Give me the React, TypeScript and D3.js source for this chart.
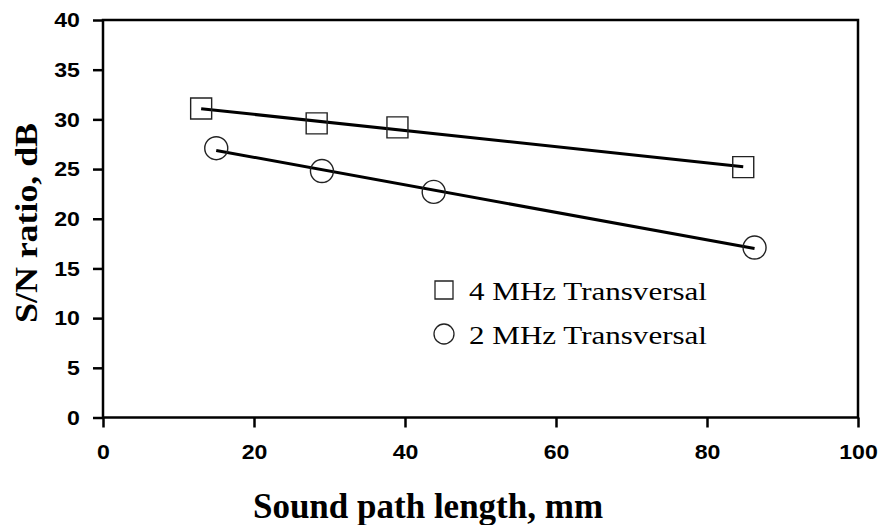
import { useEffect, useRef } from 'react'
import { select, scaleLinear, axisLeft, axisBottom, line, mean, symbol, symbolSquare, symbolCircle } from 'd3'

// 4 MHz transversal (squares)
const squareX = [13, 28.3, 39, 84.8]
const squareY = [31.1, 29.6, 29.2, 25.2]
// 2 MHz transversal (circles)
const circleX = [15, 29, 43.8, 86.3]
const circleY = [27.1, 24.8, 22.7, 17.1]

const xTicks = [0, 20, 40, 60, 80, 100]
const yTicks = [0, 5, 10, 15, 20, 25, 30, 35, 40]
const legendLabels = ['4 MHz Transversal', '2 MHz Transversal']

// least squares line through the points, drawn from first to last x
const fitLine = (xs: number[], ys: number[]) => {
  const mx = mean(xs) as number
  const my = mean(ys) as number
  let num = 0
  let den = 0
  xs.forEach((x, i) => {
    num += (x - mx) * (ys[i] - my)
    den += (x - mx) * (x - mx)
  })
  const slope = num / den
  const x0 = Math.min(...xs)
  const x1 = Math.max(...xs)
  return [[x0, my + slope * (x0 - mx)], [x1, my + slope * (x1 - mx)]] as [number, number][]
}

export default function App() {
  const svgRef = useRef<SVGSVGElement>(null)

  useEffect(() => {
    const svg = select(svgRef.current)
    svg.selectAll('*').remove()

    const xScale = scaleLinear([0, 100], [103, 858])
    const yScale = scaleLinear([0, 40], [417.5, 20])

    // y axis
    const yAxis = svg.append('g')
      .attr('transform', `translate(${xScale(0)},0)`)
      .call(axisLeft(yScale).tickValues(yTicks).tickSize(10).tickPadding(11))
    // x axis
    const xAxis = svg.append('g')
      .attr('transform', `translate(0,${yScale(0)})`)
      .call(axisBottom(xScale).tickValues(xTicks).tickSize(10).tickPadding(17))

    svg.selectAll('.domain').remove()
    ;[yAxis, xAxis].forEach(ax => {
      ax.selectAll('line').attr('stroke', '#000').attr('stroke-width', 2.5)
      ax.selectAll('text')
        .attr('fill', '#000')
        .style('font-family', '"Liberation Sans", Arial, sans-serif')
        .style('font-weight', 'bold')
        .style('font-size', '21px')
    })
    yAxis.selectAll('text').attr('transform', 'scale(1.1,1)')
    xAxis.selectAll('text').attr('transform', 'scale(1.1,1)').attr('dy', '0.71em')

    // plot frame
    svg.append('rect')
      .attr('x', xScale(0))
      .attr('y', yScale(40))
      .attr('width', xScale(100) - xScale(0))
      .attr('height', yScale(0) - yScale(40))
      .attr('fill', 'none')
      .attr('stroke', '#000')
      .attr('stroke-width', 2.5)

    const series = [
      { xs: squareX, ys: squareY, type: symbolSquare, size: 21 * 21 },
      { xs: circleX, ys: circleY, type: symbolCircle, size: Math.PI * 11.5 * 11.5 }
    ]

    const lineGen = line<[number, number]>()
      .x(d => xScale(d[0]))
      .y(d => yScale(d[1]))

    series.forEach(s => {
      svg.append('path')
        .attr('d', lineGen(fitLine(s.xs, s.ys)))
        .attr('fill', 'none')
        .attr('stroke', '#000')
        .attr('stroke-width', 3)

      svg.append('g')
        .selectAll('path')
        .data(s.xs.map((x, i) => [x, s.ys[i]]))
        .join('path')
        .attr('transform', d => `translate(${xScale(d[0])},${yScale(d[1])})`)
        .attr('d', symbol(s.type, s.size)())
        .attr('fill', 'none')
        .attr('stroke', '#222')
        .attr('stroke-width', 1.4)
    })

    // legend
    const legend = svg.append('g')
    legendLabels.forEach((label, i) => {
      const y = 290 + i * 44
      legend.append('path')
        .attr('transform', `translate(444,${y})`)
        .attr('d', symbol(series[i].type, i === 0 ? 18 * 18 : Math.PI * 10 * 10)())
        .attr('fill', 'none')
        .attr('stroke', '#222')
        .attr('stroke-width', 1.3)
      legend.append('text')
        .attr('x', 469)
        .attr('y', y + 10)
        .attr('textLength', 238)
        .attr('lengthAdjust', 'spacingAndGlyphs')
        .style('font-family', '"Liberation Serif", "Times New Roman", serif')
        .style('font-size', '26px')
        .attr('fill', '#000')
        .text(label)
    })

    // axis titles
    svg.append('text')
      .attr('x', 428)
      .attr('y', 518)
      .attr('text-anchor', 'middle')
      .style('font-family', '"Liberation Serif", "Times New Roman", serif')
      .style('font-weight', 'bold')
      .style('font-size', '35px')
      .attr('fill', '#000')
      .text('Sound path length, mm')

    svg.append('text')
      .attr('transform', 'translate(37,223) rotate(-90)')
      .attr('text-anchor', 'middle')
      .attr('textLength', 200)
      .attr('lengthAdjust', 'spacingAndGlyphs')
      .style('font-family', '"Liberation Serif", "Times New Roman", serif')
      .style('font-weight', 'bold')
      .style('font-size', '31px')
      .attr('fill', '#000')
      .text('S/N ratio, dB')
  }, [])

  return (
    <svg
      ref={svgRef}
      width={880}
      height={525}
      style={{ position: 'absolute', left: 0, top: 0, background: '#fff' }}
    />
  )
}
